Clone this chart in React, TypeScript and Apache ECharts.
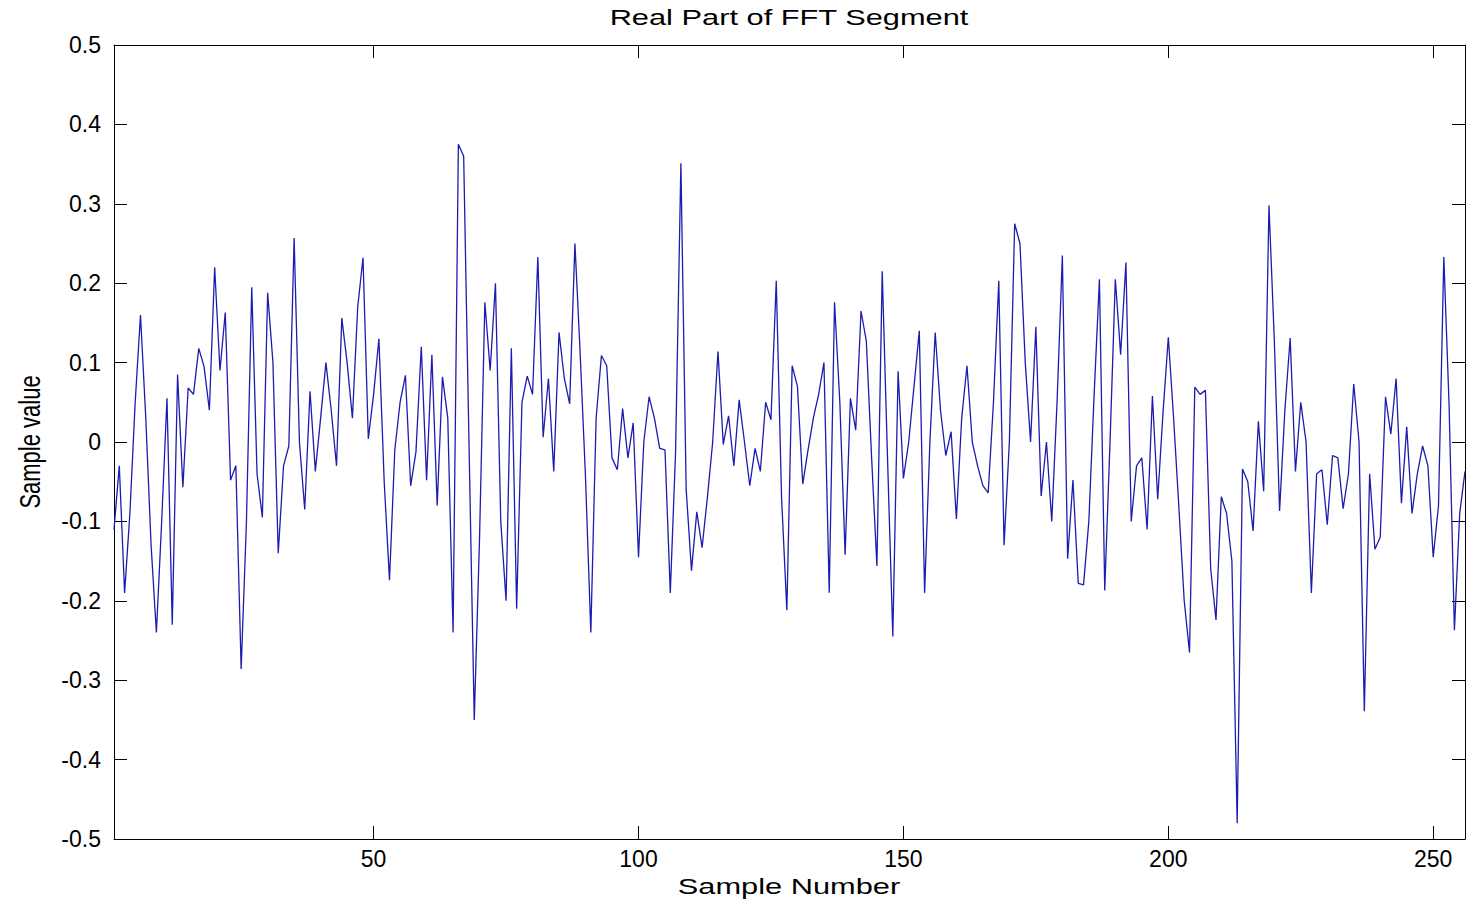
import React, { useEffect, useRef } from "react";
import * as echarts from "echarts";

const TITLE = "Real Part of FFT Segment";
const X_NAME = "Sample Number";
const Y_NAME = "Sample value";
const X_TICKS = [50, 100, 150, 200, 250];
const Y_MIN = -0.5;
const Y_MAX = 0.5;
const Y_STEP = 0.1;

const VALUES_1_64 = [
  -0.11, -0.03, -0.19, -0.09, 0.05, 0.16, 0.03, -0.13, -0.24, -0.1, 0.055, -0.23, 0.085, -0.057, 0.068, 0.06,
  0.118, 0.095, 0.04, 0.22, 0.09, 0.163, -0.048, -0.03, -0.286, -0.1, 0.195, -0.04, -0.095, 0.188, 0.1, -0.14,
  -0.03, -0.005, 0.257, 0.0, -0.085, 0.064, -0.037, 0.03, 0.1, 0.04, -0.03, 0.156, 0.1, 0.03, 0.17, 0.232,
  0.004, 0.06, 0.13, -0.05, -0.174, -0.01, 0.05, 0.084, -0.055, -0.012, 0.12, -0.048, 0.11, -0.08, 0.082, 0.03,
];
const VALUES_65_128 = [
  -0.24, 0.375, 0.36, 0.0, -0.35, -0.12, 0.176, 0.09, 0.2, -0.1, -0.2, 0.118, -0.21, 0.05, 0.083, 0.06,
  0.233, 0.006, 0.08, -0.037, 0.138, 0.08, 0.048, 0.25, 0.11, -0.045, -0.24, 0.03, 0.109, 0.096, -0.02, -0.035,
  0.042, -0.02, 0.024, -0.145, 0.0, 0.057, 0.03, -0.008, -0.01, -0.19, -0.012, 0.351, -0.06, -0.162, -0.088, -0.133,
  -0.07, 0.0, 0.114, -0.003, 0.033, -0.03, 0.053, 0.0, -0.055, -0.008, -0.037, 0.05, 0.028, 0.203, -0.07, -0.212,
];
const VALUES_129_192 = [
  0.096, 0.07, -0.053, -0.01, 0.03, 0.06, 0.1, -0.19, 0.176, 0.05, -0.142, 0.055, 0.015, 0.165, 0.127, -0.02,
  -0.156, 0.215, -0.02, -0.245, 0.089, -0.046, 0.0, 0.07, 0.14, -0.19, 0.0, 0.138, 0.04, -0.017, 0.013, -0.097,
  0.03, 0.096, 0.0, -0.03, -0.055, -0.064, 0.05, 0.203, -0.13, 0.0, 0.275, 0.25, 0.1, 0.0, 0.145, -0.068,
  0.0, -0.1, 0.05, 0.235, -0.147, -0.048, -0.178, -0.18, -0.1, 0.06, 0.205, -0.187, 0.0, 0.205, 0.11, 0.226,
];
const VALUES_193_256 = [
  -0.1, -0.03, -0.02, -0.11, 0.058, -0.072, 0.037, 0.132, 0.03, -0.083, -0.2, -0.265, 0.069, 0.06, 0.065, -0.16,
  -0.224, -0.069, -0.09, -0.15, -0.48, -0.034, -0.05, -0.112, 0.026, -0.062, 0.298, 0.13, -0.087, 0.04, 0.131, -0.037,
  0.05, 0.0, -0.19, -0.04, -0.035, -0.104, -0.017, -0.02, -0.084, -0.04, 0.073, 0.0, -0.339, -0.04, -0.135, -0.12,
  0.057, 0.01, 0.08, -0.077, 0.019, -0.09, -0.04, -0.005, -0.03, -0.145, -0.08, 0.233, 0.046, -0.237, -0.09, -0.037,
];

const FONT = "'Liberation Sans', Arial, Helvetica, sans-serif";

export default function App() {
  const ref = useRef<HTMLDivElement>(null);

  useEffect(() => {
    if (!ref.current) return;
    const chart = echarts.init(ref.current, undefined, { renderer: "svg" });
    const values = [...VALUES_1_64, ...VALUES_65_128, ...VALUES_129_192, ...VALUES_193_256];
    const data = values.map((v, i) => [i + 1, v]);
    const n = values.length;

    const axisLineStyle = { color: "#000", width: 1 };
    const labelStyle = { color: "#000", fontSize: 23, fontFamily: FONT };
    const yFmt = (v: number) => {
      const r = Math.round(v * 10) / 10;
      return r === 0 ? "0" : String(r);
    };
    const nameStyle = { fill: "#000", fontSize: 22, fontFamily: FONT, align: "center", verticalAlign: "middle" };

    chart.setOption({
      animation: false,
      backgroundColor: "#ffffff",
      graphic: [
        { type: "text", x: 789, y: 18, scaleX: 1.4, style: { ...nameStyle, text: TITLE } },
        { type: "text", x: 789, y: 887, scaleX: 1.4, style: { ...nameStyle, text: X_NAME } },
        { type: "text", x: 30, y: 442, rotation: Math.PI / 2, scaleY: 1.3, style: { ...nameStyle, text: Y_NAME } },
      ],
      grid: { left: 114, top: 45, width: 1351, height: 794, containLabel: false },
      xAxis: [
        {
          type: "value",
          min: 1,
          max: n,
          position: "bottom",
          axisLine: { show: true, onZero: false, lineStyle: axisLineStyle },
          axisTick: { show: true, inside: true, length: 13, customValues: X_TICKS, lineStyle: axisLineStyle },
          axisLabel: { show: true, customValues: X_TICKS, margin: 8, ...labelStyle },
          splitLine: { show: false },
        },
        {
          type: "value",
          min: 1,
          max: n,
          position: "top",
          axisLine: { show: true, onZero: false, lineStyle: axisLineStyle },
          axisTick: { show: true, inside: true, length: 13, customValues: X_TICKS, lineStyle: axisLineStyle },
          axisLabel: { show: false },
          splitLine: { show: false },
        },
      ],
      yAxis: [
        {
          type: "value",
          min: Y_MIN,
          max: Y_MAX,
          interval: Y_STEP,
          position: "left",
          axisLine: { show: true, onZero: false, lineStyle: axisLineStyle },
          axisTick: { show: true, inside: true, length: 13, lineStyle: axisLineStyle },
          axisLabel: { show: true, margin: 13, formatter: yFmt, ...labelStyle },
          splitLine: { show: false },
        },
        {
          type: "value",
          min: Y_MIN,
          max: Y_MAX,
          interval: Y_STEP,
          position: "right",
          axisLine: { show: true, onZero: false, lineStyle: axisLineStyle },
          axisTick: { show: true, inside: true, length: 13, lineStyle: axisLineStyle },
          axisLabel: { show: false },
          splitLine: { show: false },
        },
      ],
      series: [
        {
          type: "line",
          xAxisIndex: 0,
          yAxisIndex: 0,
          data,
          symbol: "none",
          showSymbol: false,
          lineStyle: { color: "#1c1cb0", width: 1.3 },
        },
      ],
    });

    return () => chart.dispose();
  }, []);

  return (
    <div
      ref={ref}
      style={{ position: "absolute", left: 0, top: 0, width: 1470, height: 904, background: "#fff" }}
    />
  );
}
